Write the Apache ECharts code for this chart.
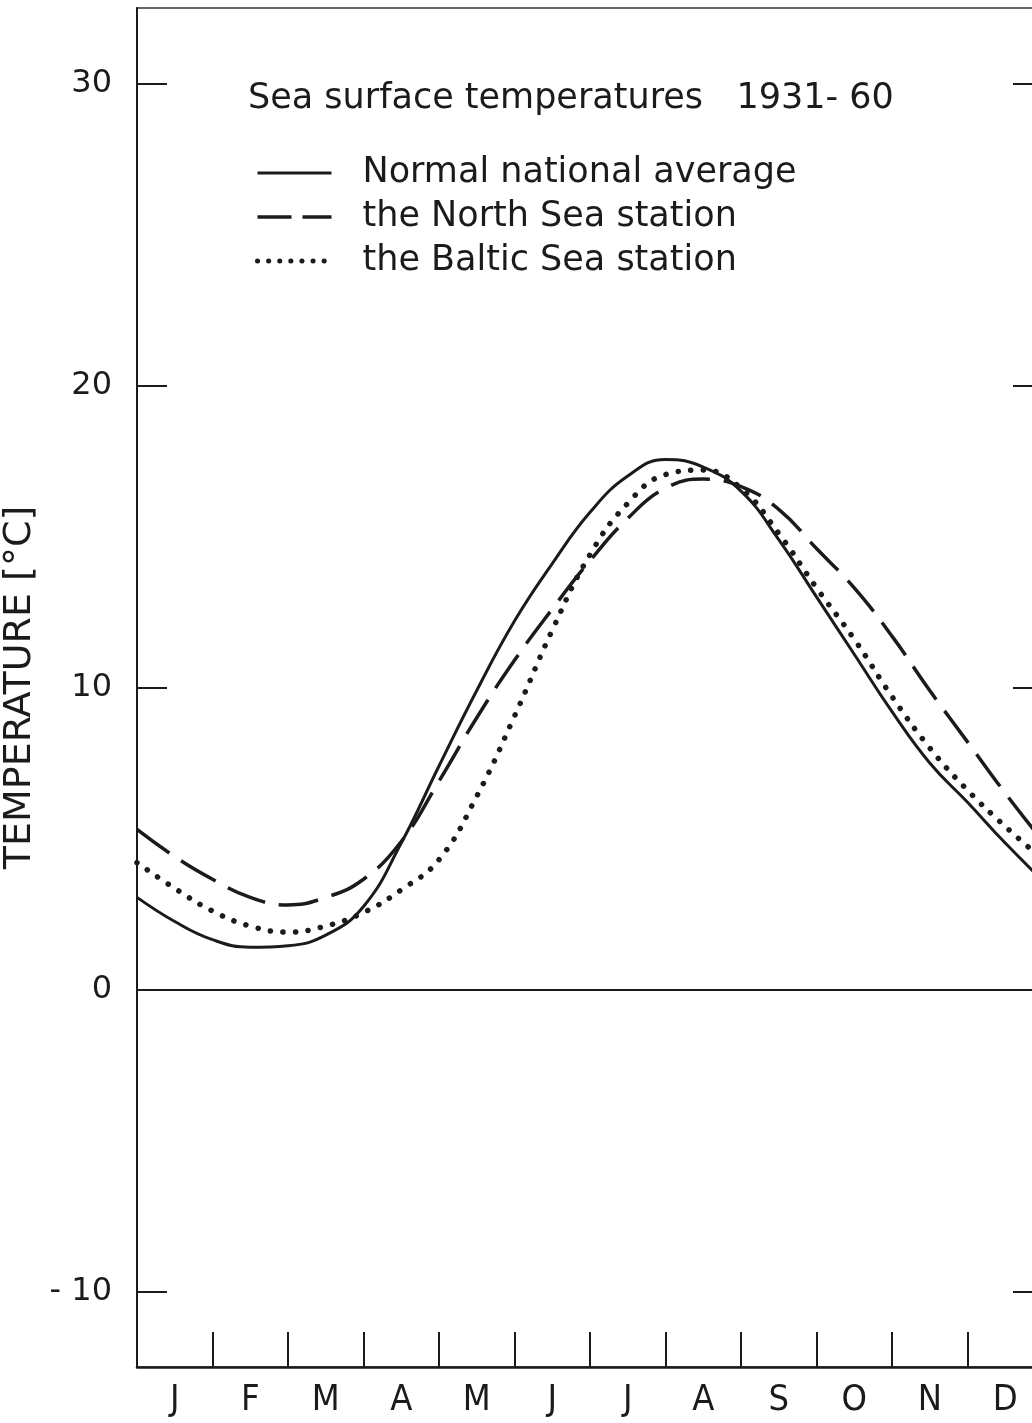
<!DOCTYPE html>
<html>
<head>
<meta charset="utf-8">
<title>Sea surface temperatures 1931-60</title>
<style>
  * { margin: 0; padding: 0; }
  body { background: #fff; }
  #main { width: 1032px; height: 1423px; }
</style>
</head>
<body>
<div id="main"></div>
<script src="https://cdn.jsdelivr.net/npm/echarts@6/dist/echarts.min.js"></script>
<script>
// half-month positions, 0 = start of January, 12 = end of December
var monthPos = [0, 0.5, 1, 1.5, 2, 2.5, 3, 3.5, 4, 4.5, 5, 5.5, 6, 6.5, 7, 7.5, 8, 8.5, 9, 9.5, 10, 10.5, 11, 11.5, 12];
var normalAvg = [3.05, 2.25, 1.65, 1.4, 1.45, 1.8, 2.75, 4.85, 7.4, 9.9, 12.2, 14.1, 15.8, 17.0, 17.55, 17.3, 16.5, 14.9, 13.0, 11.1, 9.2, 7.5, 6.2, 4.85, 3.6];
var northSea = [5.3, 4.4, 3.65, 3.05, 2.8, 3.05, 3.65, 4.9, 6.9, 9.0, 10.9, 12.6, 14.2, 15.6, 16.6, 16.9, 16.65, 15.9, 14.6, 13.3, 11.7, 9.9, 8.2, 6.5, 4.9];
var balticSea = [4.2, 3.35, 2.6, 2.1, 1.9, 2.1, 2.55, 3.3, 4.3, 6.4, 9.05, 11.9, 14.4, 16.1, 17.05, 17.2, 16.6, 15.1, 13.3, 11.6, 9.7, 8.0, 6.6, 5.4, 4.3];
var monthLabels = ['J', 'F', 'M', 'A', 'M', 'J', 'J', 'A', 'S', 'O', 'N', 'D'];
var labelPos = [0.5, 1.5, 2.5, 3.5, 4.5, 5.5, 6.5, 7.5, 8.5, 9.5, 10.5, 11.5];
var monthTicks = [1, 2, 3, 4, 5, 6, 7, 8, 9, 10, 11];
var yLabels = [-10, 0, 10, 20, 30];
var yTicks = [-10, 10, 20, 30];
var seriesNames = ['Normal national average', 'the North Sea station', 'the Baltic Sea station'];

var ink = '#1b1b1b';
var font = 'DejaVu Sans';

var lineStyles = [
  { color: ink, width: 3, type: 'solid' },
  { color: ink, width: 3.5, type: [40, 14] },
  { color: ink, width: 5.5, type: [0.1, 12.5], cap: 'round' }
];
var legendLineStyles = [
  { color: ink, width: 3, type: 'solid' },
  { color: ink, width: 3.5, type: [34, 11] },
  { color: ink, width: 5, type: [0.1, 11], cap: 'round' }
];

function pairs(ys) {
  return monthPos.map(function (x, i) { return [x, ys[i]]; });
}

var chart = echarts.init(document.getElementById('main'), null, { renderer: 'canvas' });

var option = {
  animation: false,
  backgroundColor: '#fff',
  title: {
    text: 'Sea surface temperatures   1931- 60',
    left: 243,
    top: 76,
    textStyle: { fontFamily: font, fontSize: 35, fontWeight: 'normal', color: ink }
  },
  legend: {
    orient: 'vertical',
    left: 250,
    top: 146,
    itemGap: 0,
    itemWidth: 74,
    itemHeight: 14,
    selectedMode: false,
    itemStyle: { opacity: 0 },
    data: seriesNames.map(function (n, i) {
      return { name: n, lineStyle: legendLineStyles[i] };
    }),
    textStyle: {
      fontFamily: font, fontSize: 35, color: ink,
      lineHeight: 44, padding: [0, 0, 0, 26]
    }
  },
  grid: {
    left: 137,
    top: 8,
    right: -11,
    bottom: 56,
    show: true,
    borderColor: '#333',
    borderWidth: 1.5,
    outerBoundsMode: 'none'
  },
  xAxis: {
    type: 'value',
    min: 0,
    max: 12,
    splitLine: { show: false },
    axisLine: { show: true, onZero: false, lineStyle: { color: ink, width: 2.5 } },
    axisTick: {
      show: true, inside: true, length: 35,
      customValues: monthTicks,
      lineStyle: { color: ink, width: 2 }
    },
    axisLabel: {
      customValues: labelPos,
      margin: 16,
      fontFamily: 'DejaVu Sans Condensed',
      fontSize: 36,
      color: ink,
      formatter: function (v) { return monthLabels[Math.floor(v)]; }
    }
  },
  yAxis: [
    {
      type: 'value',
      position: 'left',
      min: -12.5,
      max: 32.5,
      name: 'TEMPERATURE [°C]',
      nameLocation: 'middle',
      nameGap: 82,
      nameTextStyle: { fontFamily: font, fontSize: 38, color: ink },
      splitLine: { show: false },
      axisLine: { show: true, onZero: false, lineStyle: { color: ink, width: 2 } },
      axisTick: {
        show: true, inside: true, length: 30,
        customValues: yTicks,
        lineStyle: { color: ink, width: 2 }
      },
      axisLabel: {
        customValues: yLabels,
        margin: 25,
        fontFamily: font,
        fontSize: 32,
        color: ink,
        formatter: function (v) { return v < 0 ? '- ' + Math.abs(v) : String(v); }
      }
    },
    {
      type: 'value',
      position: 'right',
      min: -12.5,
      max: 32.5,
      splitLine: { show: false },
      axisLine: { show: true, onZero: false, lineStyle: { color: ink, width: 2 } },
      axisTick: {
        show: true, inside: true, length: 30,
        customValues: yTicks,
        lineStyle: { color: ink, width: 2 }
      },
      axisLabel: { show: false }
    }
  ],
  series: [
    {
      name: seriesNames[0],
      type: 'line',
      data: pairs(normalAvg),
      smooth: 0.45,
      showSymbol: false,
      symbol: 'none',
      lineStyle: lineStyles[0],
      itemStyle: { color: ink },
      markLine: {
        silent: true,
        symbol: ['none', 'none'],
        label: { show: false },
        lineStyle: { color: ink, width: 2, type: 'solid' },
        data: [{ yAxis: 0 }]
      }
    },
    {
      name: seriesNames[1],
      type: 'line',
      data: pairs(northSea),
      smooth: 0.45,
      showSymbol: false,
      symbol: 'none',
      lineStyle: lineStyles[1],
      itemStyle: { color: ink }
    },
    {
      name: seriesNames[2],
      type: 'line',
      data: pairs(balticSea),
      smooth: 0.45,
      showSymbol: false,
      symbol: 'none',
      lineStyle: lineStyles[2],
      itemStyle: { color: ink }
    }
  ]
};

chart.setOption(option);
</script>
</body>
</html>
